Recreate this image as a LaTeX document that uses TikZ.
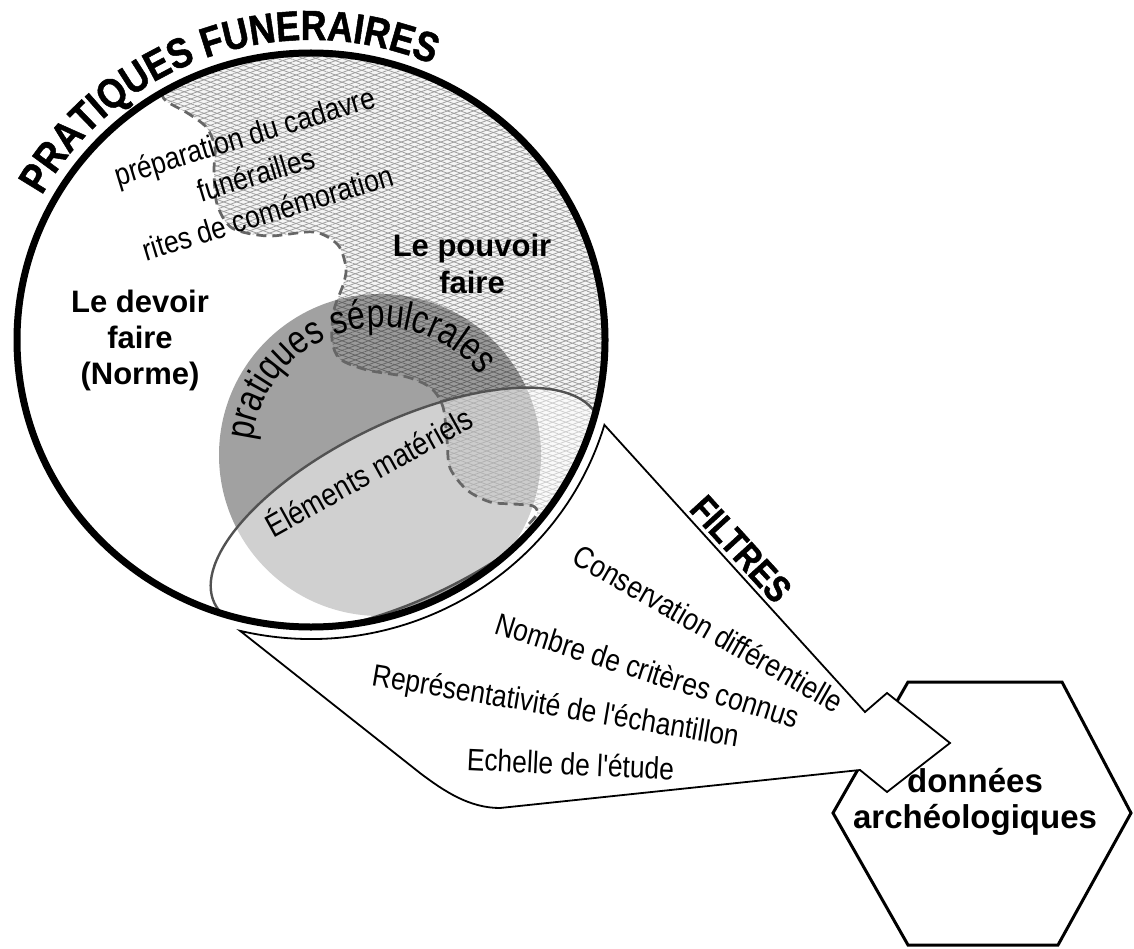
\documentclass[tikz,border=0pt]{standalone}
\usepackage{fontspec}
\setmainfont{Liberation Sans}
\newfontfamily\narrowf[FakeStretch=0.85]{Liberation Sans}
\newfontfamily\arcfam[FakeStretch=0.8]{Liberation Sans}
\newfontfamily\heavyf[FakeStretch=0.85, BoldFeatures={FakeBold=1.2}]{Liberation Sans}
\usetikzlibrary{decorations.text,patterns.meta,calc}
\newcommand{\titlef}{\heavyf\bfseries\fontsize{42}{42}\selectfont}
\newcommand{\arcf}{\arcfam\fontsize{40}{40}\selectfont}
\tikzset{
  thintext/.style={font=\narrowf\fontsize{31}{40}\selectfont, inner sep=0pt, text=black},
  boldtext/.style={font=\bfseries\fontsize{31}{36}\selectfont, align=center, inner sep=0pt},
  hatchfill/.style={fill=gray!8,
    postaction={pattern={Lines[angle=20,distance=4.5pt,line width=0.8pt]}, pattern color=gray!75},
    postaction={pattern={Lines[angle=-20,distance=4.5pt,line width=0.8pt]}, pattern color=gray!75}},
  dashline/.style={draw=black!60, line width=2.7pt, dash pattern=on 10pt off 6pt},
  funnel/.style={draw=black, line width=1.8pt, fill=white, line join=miter},
  hexa/.style={draw=black, line width=3pt, line join=miter}
}
\begin{document}
\begin{tikzpicture}[x=1pt,y=1pt]
\useasboundingbox (0,0) rectangle (1134,-949);
\fill[white] (0,0) rectangle (1134,-949);

% coordinates
\coordinate (C) at (311,-340);
\coordinate (G) at (380,-455);
\coordinate (E) at (406,-510);
\coordinate (F1) at ($(C)+(-103.4:306 and 299)$);
\coordinate (A1) at (865,-712);
\coordinate (A2) at (887,-693);
\coordinate (Tip) at (950,-743);
\coordinate (A3) at (887,-792);
\coordinate (A4) at (860,-770);
\coordinate (B1) at (500,-808);
\coordinate (B2) at (420,-773);
\coordinate (H1) at (908,-682);
\coordinate (H2) at (1062,-682);
\coordinate (H3) at (1131,-813);
\coordinate (H4) at (1058,-945);
\coordinate (H5) at (908,-945);
\coordinate (H6) at (833,-813);

% hexagon
\draw[hexa] (H1) -- (H2) -- (H3) -- (H4) -- (H5) -- (H6) -- cycle;
\node[boldtext, font=\bfseries\fontsize{33}{36}\selectfont] (donnees) at (975,-802) {données\\archéologiques};

% funnel arrow
\draw[funnel] (F1) arc[start angle=-103.4, end angle=-16.5, x radius=306, y radius=299]
  -- (A1) -- (A2) -- (Tip) -- (A3) -- (A4) -- (B1)
  .. controls (470,-808) and (445,-792) .. (B2) -- cycle;

% hatched region "pouvoir faire"
\begin{scope}
\clip (C) ellipse[x radius=294, y radius=287];
\path[hatchfill] plot[smooth, tension=0.5] coordinates {(161,-92) (166,-101) (189,-114) (207,-128) (215,-148) (214,-171) (217,-204) (232,-228) (268,-236) (314,-232) (338,-245) (346,-268) (343,-285) (334,-310) (332,-340) (340,-359) (367,-370) (407,-377) (431,-388) (443,-407) (447,-440) (450,-468) (467,-490) (490,-502) (513,-504) (533,-506) (537,-514) (525,-528)}
  -- (560,-560) -- (720,-560) -- (720,-20) -- (150,-20) -- (150,-80) -- cycle;
% sepulchral circle
\fill[black, fill opacity=0.37] (G) circle[radius=161];
% material elements ellipse
\fill[white, fill opacity=0.5, rotate around={26:(E)}] (E) ellipse[x radius=213, y radius=88];
\draw[black!68, line width=2.4pt, rotate around={26:(E)}] (E) ellipse[x radius=213, y radius=88];
% dashed boundary
\draw[dashline] plot[smooth, tension=0.5] coordinates {(161,-92) (166,-101) (189,-114) (207,-128) (215,-148) (214,-171) (217,-204) (232,-228) (268,-236) (314,-232) (338,-245) (346,-268) (343,-285) (334,-310) (332,-340) (340,-359) (367,-370) (407,-377) (431,-388) (443,-407) (447,-440) (450,-468) (467,-490) (490,-502) (513,-504) (533,-506) (537,-514) (525,-528)};
\end{scope}

% big circle
\draw[line width=7pt] (C) ellipse[x radius=294, y radius=287];

% title along the circle
\path[decorate, decoration={text along path, text align=center,
  text={|\titlef|PRATIQUES FUNERAIRES}}]
  ($(C)+(152:307 and 300)$) arc[start angle=152, end angle=66, x radius=307, y radius=300];

% curved label of the grey circle
\path[decorate, decoration={text along path, text align=center,
  text={|\arcf|pratiques sépulcrales}}]
  ($(G)+(176:128)$) arc[start angle=176, end angle=36, radius=128];

% texts inside the circle
\node[thintext, align=center, rotate=17] (rites) at (256,-174)
  {préparation du cadavre\\funérailles\\rites de comémoration};
\node[boldtext] (devoir) at (140,-340) {Le devoir\\faire\\(Norme)};
\node[boldtext, font=\bfseries\fontsize{31}{37}\selectfont] (pouvoir) at (472,-264) {Le pouvoir\\faire};
\node[thintext, rotate=29, font=\narrowf\fontsize{32}{36}\selectfont] (elements) at (368,-470) {Éléments matériels};

% filters
\node[inner sep=0pt, rotate=-47.6, font=\heavyf\bfseries\fontsize{37}{37}\selectfont] (filtres) at (741,-549) {FILTRES};
\node[thintext, anchor=base, rotate=-29.7] (cons) at (703,-638) {Conservation différentielle};
\node[thintext, anchor=base, rotate=-17.6] (nombre) at (644,-681) {Nombre de critères connus};
\node[thintext, anchor=base, rotate=-9.6] (repr) at (554,-716) {Représentativité de l'échantillon};
\node[thintext, anchor=base, rotate=-2.7] (echelle) at (570,-775) {Echelle de l'étude};
\end{tikzpicture}
\end{document}
